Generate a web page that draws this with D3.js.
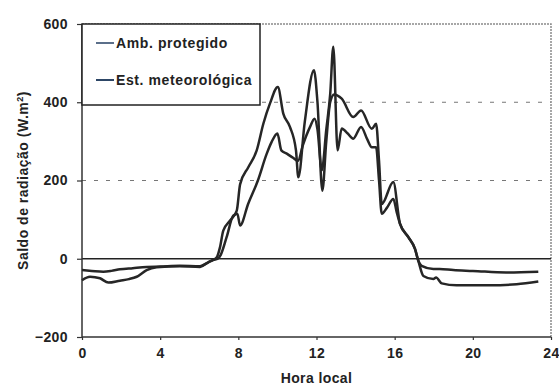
<!DOCTYPE html>
<html>
<head>
<meta charset="utf-8">
<script src="https://cdn.jsdelivr.net/npm/d3@7"></script>
<style>
  body { margin: 0; background: #fff; }
  svg text { font-family: "Liberation Sans", Arial, sans-serif; font-weight: bold; fill: #222; }
</style>
</head>
<body>
<div id="chart"></div>
<script>
// series names
var seriesNames = ["Amb. protegido", "Est. meteorológica"];

// Amb. protegido: [hora, W.m-2]
var ambHours = [0, 0.5, 1.09, 1.5, 1.94, 2.6, 3.31, 4, 5, 6.04, 6.46, 6.72, 6.95, 7.1, 7.4, 7.74, 7.95, 8.09, 8.5, 9.0, 9.45, 9.7, 10.0, 10.2, 10.5, 10.8, 11.05, 11.3, 11.67, 11.9, 12.05, 12.27, 12.5, 12.7, 12.86, 13.08, 13.29, 13.6, 13.88, 14.28, 14.6, 14.83, 15.05, 15.2, 15.34, 15.6, 15.93, 16.1, 16.27, 16.7, 17.04, 17.21, 17.38, 17.98, 18.3, 19, 20.0, 21.7, 23.35];
var ambValues = [-29, -31, -33, -31, -27, -24, -21, -20, -18, -19, -9, -3, 0, 10, 55, 110, 115, 85, 140, 200, 268, 298, 320, 277, 268, 258, 250, 290, 337, 358, 330, 226, 330, 420, 542, 277, 333, 320, 307, 337, 305, 285, 285, 200, 115, 130, 153, 120, 90, 55, 25, -5, -18, -26, -26, -29, -31, -35, -33];

// Est. meteorológica: [hora, W.m-2]
var estHours = [0, 0.41, 0.92, 1.35, 1.94, 2.4, 2.8, 3.31, 3.82, 5, 6.04, 6.46, 6.72, 6.89, 7.06, 7.23, 7.57, 7.92, 8.09, 8.51, 8.94, 9.28, 9.62, 10.02, 10.3, 10.64, 10.95, 11.07, 11.4, 11.87, 12.05, 12.3, 12.5, 12.7, 12.9, 13.29, 13.88, 14.28, 14.83, 15.05, 15.2, 15.34, 15.93, 16.27, 16.7, 17.04, 17.21, 17.47, 17.98, 18.12, 18.41, 19.17, 20.88, 22.24, 23.35];
var estValues = [-55, -46, -50, -61, -56, -52, -46, -29, -22, -19, -21, -9, -3, 3, 29, 72, 97, 123, 190, 234, 277, 345, 397, 439, 371, 337, 277, 208, 350, 482, 400, 174, 300, 400, 420, 409, 362, 379, 332, 345, 250, 140, 196, 90, 55, 25, -5, -44, -52, -48, -63, -68, -68, -65, -58];

var xTicks = [0, 4, 8, 12, 16, 20, 24];
var yTicks = [-200, 0, 200, 400, 600];

var W = 559, H = 387;
var plotL = 82, plotR = 551, plotT = 24, plotB = 337;

var svg = d3.select("#chart").append("svg")
  .attr("width", W)
  .attr("height", H);

var x = d3.scaleLinear().domain([0, 24]).range([plotL, plotR]);
var y = d3.scaleLinear().domain([-200, 600]).range([plotB, plotT]);

// dashed grid lines at 200 and 400
svg.selectAll(".grid")
  .data([200, 400])
  .enter()
  .append("line")
  .attr("x1", plotL).attr("x2", plotR)
  .attr("y1", d => y(d)).attr("y2", d => y(d))
  .attr("stroke", "#777")
  .attr("stroke-width", 1)
  .attr("stroke-dasharray", "4,8");

// dotted top and right border
svg.append("path")
  .attr("d", "M" + plotL + "," + y(600) + "H" + plotR + "V" + plotB)
  .attr("fill", "none")
  .attr("stroke", "#8a8a8a")
  .attr("stroke-width", 1.5)
  .attr("stroke-dasharray", "2,1");

// zero line
svg.append("line")
  .attr("x1", plotL).attr("x2", plotR)
  .attr("y1", y(0)).attr("y2", y(0))
  .attr("stroke", "#222")
  .attr("stroke-width", 1.5);

// axes
var yAxis = svg.append("g")
  .attr("transform", "translate(" + plotL + ",0)")
  .call(d3.axisLeft(y).tickValues(yTicks).tickSize(5).tickPadding(9).tickFormat(d3.format("d")));

var xAxis = svg.append("g")
  .attr("transform", "translate(0," + plotB + ")")
  .call(d3.axisBottom(x).tickValues(xTicks).tickSize(3).tickPadding(8).tickFormat(d3.format("d")));

[xAxis, yAxis].forEach(function (g) {
  g.select(".domain").attr("stroke", "#333").attr("stroke-width", 1.5);
  g.selectAll(".tick line").attr("stroke", "#333").attr("stroke-width", 1.2);
  g.selectAll(".tick text")
    .attr("font-size", 14)
    .attr("font-family", "Liberation Sans, Arial, sans-serif")
    .attr("font-weight", "bold")
    .attr("letter-spacing", 0.4)
    .attr("fill", "#222");
});
xAxis.select(".domain").attr("d", "M" + plotL + ",0H" + plotR);
yAxis.select(".domain").attr("d", "M0," + plotT + "V" + plotB);

// curves
var line = d3.line()
  .x(d => x(d[0]))
  .y(d => y(d[1]))
  .curve(d3.curveMonotoneX);

var series = [
  d3.zip(ambHours, ambValues),
  d3.zip(estHours, estValues)
];

svg.selectAll(".serie")
  .data(series)
  .enter()
  .append("path")
  .attr("class", "serie")
  .attr("d", line)
  .attr("fill", "none")
  .attr("stroke", "#262626")
  .attr("stroke-width", 2.5)
  .attr("stroke-linejoin", "round");

// legend
var legend = svg.append("g");
legend.append("rect")
  .attr("x", plotL).attr("y", plotT)
  .attr("width", 178).attr("height", 81)
  .attr("fill", "#fff")
  .attr("stroke", "#222")
  .attr("stroke-width", 1.5);

var legendColors = ["#5b6f8a", "#2d4666"];
var legendY = [43, 80];

seriesNames.forEach(function (name, i) {
  legend.append("line")
    .attr("x1", 96).attr("x2", 114)
    .attr("y1", legendY[i]).attr("y2", legendY[i])
    .attr("stroke", legendColors[i])
    .attr("stroke-width", 2);
  legend.append("text")
    .attr("x", 116)
    .attr("y", legendY[i])
    .attr("dy", "0.35em")
    .attr("font-size", 14)
    .attr("letter-spacing", 0.6)
    .text(name);
});

// axis titles
svg.append("text")
  .attr("x", (plotL + plotR) / 2)
  .attr("y", 383)
  .attr("text-anchor", "middle")
  .attr("font-size", 14)
  .attr("letter-spacing", 0.4)
  .text("Hora local");

var yt = svg.append("text")
  .attr("transform", "translate(28," + ((plotT + plotB) / 2) + ") rotate(-90)")
  .attr("text-anchor", "middle")
  .attr("font-size", 14)
  .attr("letter-spacing", 0.5);
yt.append("tspan").text("Saldo de radiação (W.m");
yt.append("tspan").attr("font-size", 9).attr("dy", -5).text("2");
yt.append("tspan").attr("dy", 5).text(")");
</script>
</body>
</html>
